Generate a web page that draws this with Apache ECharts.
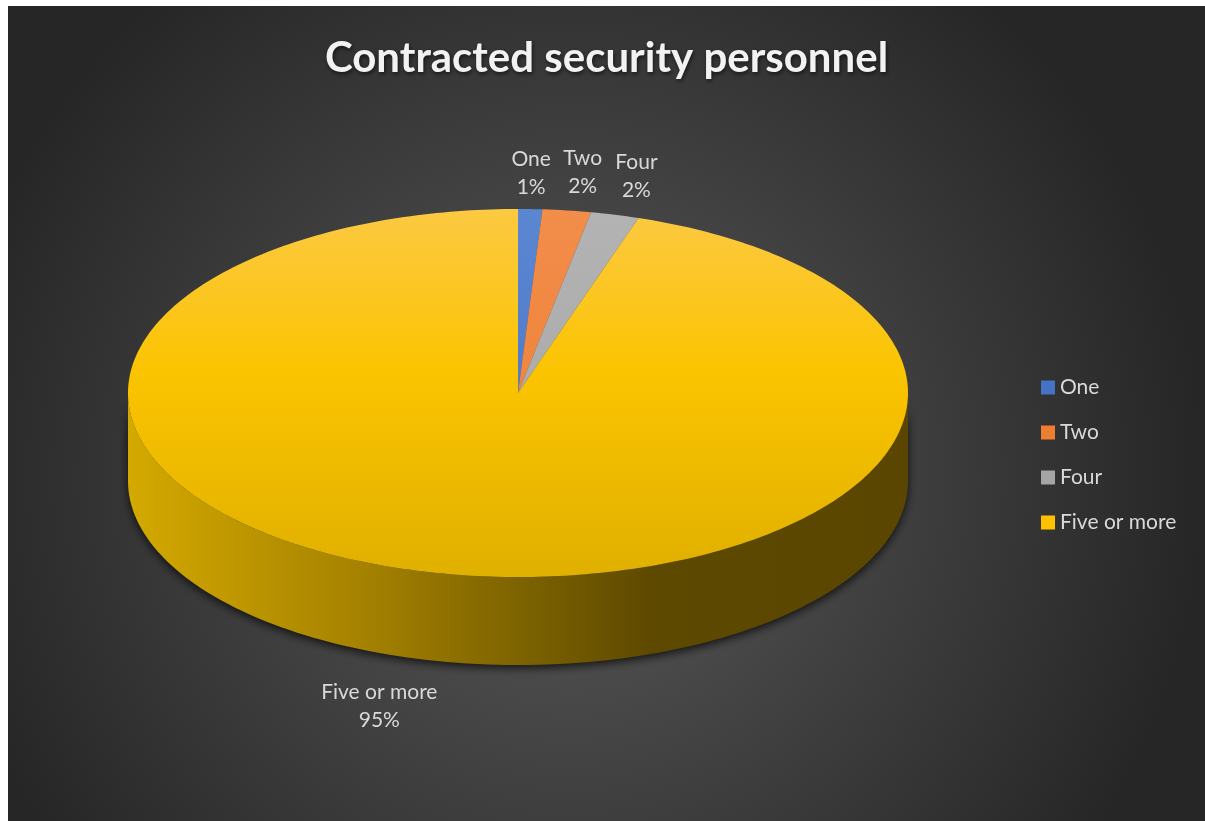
<!DOCTYPE html>
<html>
<head>
<meta charset="utf-8">
<script src="https://cdn.jsdelivr.net/npm/echarts@6/dist/echarts.min.js"></script>
<style>
  html, body { margin: 0; padding: 0; background: #ffffff; }
  #chart { position: absolute; left: 8px; top: 6px; width: 1197px; height: 815px; }
</style>
</head>
<body>
<div id="chart"></div>
<script>
// ---- data ----
const categories = ['One', 'Two', 'Four', 'Five or more'];
const values = [1, 2, 2, 95];
const chartTitle = 'Contracted security personnel';

// ---- styles / layout (kept separate from data) ----
const sliceTopColors = [
  ['#5b86d2', '#4472c4'],
  ['#f28d4a', '#ed7d31'],
  ['#b3b3b3', '#a5a5a5'],
  ['#fcc942', '#fbc400', '#e0b000']
];
const legendColors = ['#4472c4', '#ed7d31', '#a5a5a5', '#ffc000'];
const layout = { cx: 510, cy: 387, rx: 390, ry: 184, depth: 88 };
const labelNudge = [[0, 0], [12, -3], [14, -4], [-73, 8]];

const chart = echarts.init(document.getElementById('chart'));
const total = values.reduce((a, b) => a + b, 0);

function ellPt(t, dy) {
  return [layout.cx + layout.rx * Math.sin(t), layout.cy - layout.ry * Math.cos(t) + (dy || 0)];
}

function makeRender(i) {
  return function (params, api) {
    const v = api.value(0);
    let before = 0;
    for (let k = 0; k < i; k++) before += values[k];
    const a0 = before / total * Math.PI * 2;
    const a1 = a0 + v / total * Math.PI * 2;
    const children = [];
    const { cx, cy, rx, ry, depth } = layout;

    // side wall (front half only)
    const s = Math.max(a0, Math.PI / 2), e = Math.min(a1, Math.PI * 1.5);
    if (e > s) {
      const pts = [];
      const n = 120;
      for (let j = 0; j <= n; j++) pts.push(ellPt(s + (e - s) * j / n, 0));
      for (let j = n; j >= 0; j--) pts.push(ellPt(s + (e - s) * j / n, depth));
      children.push({
        type: 'polygon',
        shape: { points: pts },
        style: {
          fill: {
            type: 'linear', global: true, x: cx - rx, y: 0, x2: cx + rx, y2: 0,
            colorStops: [
              { offset: 0, color: '#d4a900' },
              { offset: 0.07, color: '#c9a000' },
              { offset: 0.3, color: '#a58200' },
              { offset: 0.5, color: '#7d6300' },
              { offset: 0.67, color: '#5e4900' },
              { offset: 1, color: '#5a4600' }
            ]
          },
          shadowBlur: 10,
          shadowColor: 'rgba(0,0,0,0.75)',
          shadowOffsetY: 3
        }
      });
    }

    // top face
    const tp = [[cx, cy]];
    const m = Math.max(8, Math.ceil((a1 - a0) / (Math.PI * 2) * 360));
    for (let j = 0; j <= m; j++) tp.push(ellPt(a0 + (a1 - a0) * j / m, 0));
    const tc = sliceTopColors[i];
    const stops = tc.map((c, k) => ({ offset: k / (tc.length - 1), color: c }));
    if (tc.length === 3) stops[1].offset = 0.45;
    children.push({
      type: 'polygon',
      shape: { points: tp },
      style: {
        fill: { type: 'linear', global: true, x: 0, y: cy - ry, x2: 0, y2: cy + ry, colorStops: stops }
      }
    });

    // label
    const mid = (a0 + a1) / 2;
    const front = Math.cos(mid) < 0;
    const lx = cx + (rx + 30) * Math.sin(mid) + labelNudge[i][0];
    const ly = cy - (ry + 36) * Math.cos(mid) + (front ? depth : 0) + labelNudge[i][1];
    children.push({
      type: 'text',
      x: lx, y: ly,
      style: {
        text: categories[i] + '\n' + Math.round(v / total * 100) + '%',
        fill: '#d9d9d9',
        font: '21px Lato',
        lineHeight: 28,
        align: 'center',
        verticalAlign: 'middle'
      }
    });
    return { type: 'group', children: children };
  };
}

const series = categories.map((name, i) => ({
  type: 'custom',
  name: name,
  coordinateSystem: 'none',
  itemStyle: { color: legendColors[i] },
  renderItem: makeRender(i),
  data: [[values[i]]],
  silent: true
}));

chart.setOption({
  animation: false,
  backgroundColor: {
    type: 'radial', x: 0.47, y: 0.58, r: 0.78,
    colorStops: [
      { offset: 0, color: '#5a5a5a' },
      { offset: 1, color: '#262626' }
    ]
  },
  title: {
    text: chartTitle,
    left: 'center',
    top: 26,
    textStyle: {
      fontFamily: 'Lato',
      fontWeight: 'bold',
      fontSize: 42,
      color: '#f2f2f2',
      textShadowColor: 'rgba(0,0,0,0.6)',
      textShadowBlur: 4,
      textShadowOffsetX: 1,
      textShadowOffsetY: 2
    }
  },
  legend: {
    orient: 'vertical',
    left: 1028,
    top: 366,
    icon: 'rect',
    itemWidth: 14,
    itemHeight: 14,
    itemGap: 24,
    data: categories,
    textStyle: { color: '#d9d9d9', fontFamily: 'Lato', fontSize: 21, padding: [0, 0, 0, 0] }
  },
  series: series
});
</script>
</body>
</html>
